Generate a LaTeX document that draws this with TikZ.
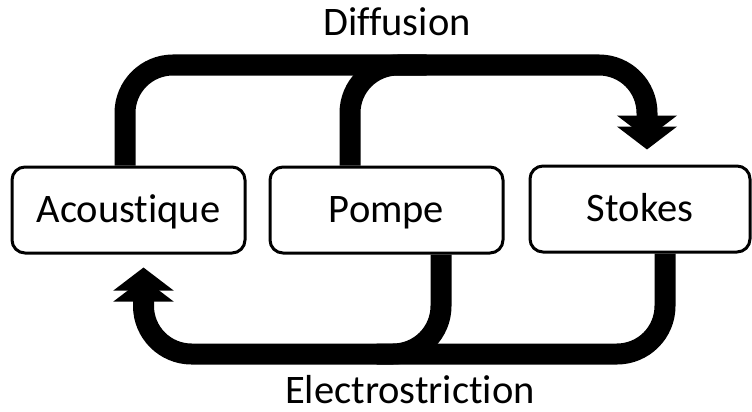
\documentclass[tikz,border=0pt]{standalone}
\usepackage{fontspec}
\setmainfont[Ligatures={NoCommon,NoRare,NoContextual}]{Carlito}
\usetikzlibrary{arrows.meta,calc}
\begin{document}
\begin{tikzpicture}[x=1pt,y=-1pt,
  box/.style={draw,line width=3pt,rounded corners=13pt,minimum width=233pt,minimum height=86pt,
    inner sep=0pt,text height=25pt,text depth=0pt,font=\fontsize{40.5}{48}\selectfont},
  lbl/.style={anchor=base,font=\fontsize{40.5}{48}\selectfont},
  flow/.style={line width=21pt,rounded corners=48pt},
  dbl/.style={-{Triangle[length=23pt,width=59pt,sep=-12pt]Triangle[length=23pt,width=59pt]}}]
\useasboundingbox (0,0) rectangle (752,412);
\node[box] (ac) at (128.5,210) {Acoustique};
\node[box] (po) at (386.5,210) {Pompe};
\node[box,minimum width=220pt] (st) at (640,209) {Stokes};
\coordinate (toprail) at (0,65);
\coordinate (botrail) at (0,354);
\coordinate (dtip) at ([xshift=7pt,yshift=15pt]st.north);
\coordinate (etip) at ([xshift=15pt,yshift=-13pt]ac.south);
% Diffusion path
\draw[flow,dbl] ([xshift=-3.5pt]ac.north) |- (toprail -| dtip) -- (dtip);
\draw[flow] ([xshift=-36.5pt]po.north) |- ($(toprail -| po.north)+(40,0)$);
% Electrostriction path
\draw[flow,dbl] ([xshift=25pt]st.south) |- (botrail -| etip) -- (etip);
\draw[flow] ([xshift=54.5pt]po.south) |- ($(botrail -| po.south)+(-10,0)$);
\node[lbl] (dif) at (397,36) {Diffusion};
\node[lbl] (ele) at (410,403) {Electrostriction};
\end{tikzpicture}
\end{document}
